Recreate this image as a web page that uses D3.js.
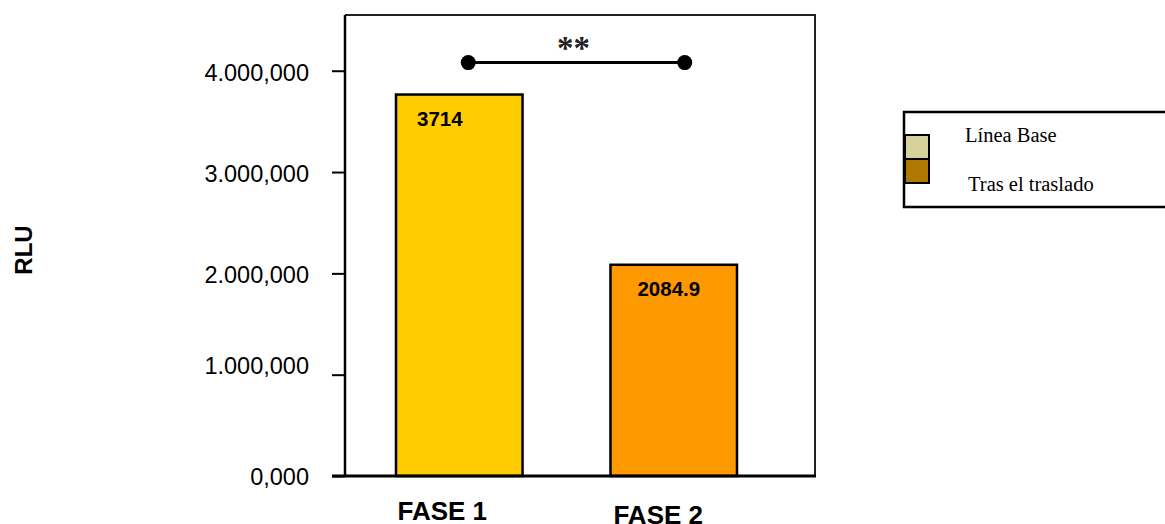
<!DOCTYPE html>
<html>
<head>
<meta charset="utf-8">
<script src="https://cdn.jsdelivr.net/npm/d3@7"></script>
<style>
  html, body { margin: 0; padding: 0; background: #fff; }
  svg { display: block; }
</style>
</head>
<body>
<div id="chart"></div>
<script>
// ---- data ----
const categories = ["FASE 1", "FASE 2"];
const values = [3765000, 2084900];
const valueLabels = ["3714", "2084.9"];
const barColors = ["#FFCC00", "#FF9900"];
const tickValues = [0, 1000000, 2000000, 3000000, 4000000];
const tickLabels = ["0,000", "1.000,000", "2.000,000", "3.000,000", "4.000,000"];
const legendLabels = ["Línea Base", "Tras el traslado"];
const legendColors = ["#D6D09C", "#B07800"];
const yTitle = "RLU";
const sigLabel = "**";
const sigValue = 4080000;

// ---- layout ----
const W = 1165, H = 524;
const plot = { left: 345, right: 815, top: 15, bottom: 476 };

const svg = d3.select("#chart").append("svg")
  .attr("width", W).attr("height", H);

const y = d3.scaleLinear().domain([0, 4550000]).range([plot.bottom, plot.top]);
const x = d3.scaleBand().domain(categories).range([396, 737]).paddingInner(0.41).paddingOuter(0);

// frame (top & right)
svg.append("path")
  .attr("d", `M${plot.left},${plot.top}H${plot.right}V${plot.bottom}`)
  .attr("fill", "none").attr("stroke", "#222").attr("stroke-width", 2);

// bars
svg.selectAll("rect.bar").data(categories).enter().append("rect")
  .attr("class", "bar")
  .attr("x", d => x(d))
  .attr("y", (d, i) => y(values[i]))
  .attr("width", x.bandwidth())
  .attr("height", (d, i) => y(0) - y(values[i]))
  .attr("fill", (d, i) => barColors[i])
  .attr("stroke", "#000").attr("stroke-width", 2.5);

// value labels
svg.selectAll("text.val").data(categories).enter().append("text")
  .attr("class", "val")
  .attr("x", (d, i) => x(d) + 21 + (i === 1 ? 6 : 0))
  .attr("y", (d, i) => y(values[i]) + 31)
  .attr("font-family", "Liberation Sans, Arial, sans-serif")
  .attr("font-weight", "bold").attr("font-size", 20.5)
  .attr("fill", "#000")
  .text((d, i) => valueLabels[i]);

// y axis
const yAxis = d3.axisLeft(y).tickValues(tickValues)
  .tickFormat((d, i) => tickLabels[i]).tickSize(13).tickPadding(23);
const gy = svg.append("g").attr("transform", `translate(${plot.left},0)`).call(yAxis);
gy.select(".domain").attr("d", `M0,${plot.top}V${plot.bottom}`).attr("stroke", "#000").attr("stroke-width", 2.5);
gy.selectAll(".tick line").attr("stroke", "#000").attr("stroke-width", 2);
gy.selectAll(".tick text")
  .attr("font-family", "Liberation Sans, Arial, sans-serif")
  .attr("font-size", 23.5).attr("fill", "#000")
  .attr("dy", d => d === 1000000 ? "-0.05em" : d === 0 ? "0.36em" : "0.4em");

// x axis baseline
svg.append("line")
  .attr("x1", plot.left - 13).attr("x2", plot.right + 1)
  .attr("y1", y(0)).attr("y2", y(0))
  .attr("stroke", "#000").attr("stroke-width", 3);

// category labels
svg.selectAll("text.cat").data(categories).enter().append("text")
  .attr("class", "cat")
  .attr("x", (d, i) => x(d) + x.bandwidth() / 2 - 17 + (i === 1 ? 1.5 : 0))
  .attr("y", (d, i) => y(0) + 44 + (i === 1 ? 4 : 0))
  .attr("text-anchor", "middle")
  .attr("font-family", "Liberation Sans, Arial, sans-serif")
  .attr("font-weight", "bold").attr("font-size", 26)
  .attr("fill", "#000")
  .text(d => d);

// y title
svg.append("text")
  .attr("transform", `translate(32,250) rotate(-90)`)
  .attr("text-anchor", "middle")
  .attr("font-family", "Liberation Sans, Arial, sans-serif")
  .attr("font-weight", "bold").attr("font-size", 24)
  .attr("fill", "#000")
  .text(yTitle);

// significance bracket
const sx1 = x(categories[0]) + x.bandwidth() / 2 + 9;
const sx2 = x(categories[1]) + x.bandwidth() / 2 + 11;
const sy = y(sigValue);
svg.append("line").attr("x1", sx1).attr("x2", sx2).attr("y1", sy).attr("y2", sy)
  .attr("stroke", "#000").attr("stroke-width", 3);
svg.selectAll("circle.sig").data([sx1, sx2]).enter().append("circle")
  .attr("class", "sig").attr("cx", d => d).attr("cy", sy).attr("r", 7.5).attr("fill", "#000");
svg.append("text")
  .attr("x", (sx1 + sx2) / 2 - 3).attr("y", sy - 4)
  .attr("text-anchor", "middle")
  .attr("font-family", "Liberation Serif, Times New Roman, serif")
  .attr("font-weight", "bold").attr("font-size", 33)
  .attr("fill", "#222")
  .text(sigLabel);

// legend
const lg = svg.append("g");
lg.append("path")
  .attr("d", `M${W + 5},112H904V207H${W + 5}`)
  .attr("fill", "none").attr("stroke", "#000").attr("stroke-width", 2.5);
lg.selectAll("rect").data(legendColors).enter().append("rect")
  .attr("x", 905).attr("y", (d, i) => 135 + i * 24)
  .attr("width", 24).attr("height", 24)
  .attr("fill", d => d).attr("stroke", "#000").attr("stroke-width", 2);
lg.selectAll("text").data(legendLabels).enter().append("text")
  .attr("x", (d, i) => 965 + i * 3)
  .attr("y", (d, i) => 142 + i * 48.5)
  .attr("font-family", "Liberation Serif, Times New Roman, serif")
  .attr("font-size", 20.5).attr("fill", "#000")
  .text(d => d);
</script>
</body>
</html>
